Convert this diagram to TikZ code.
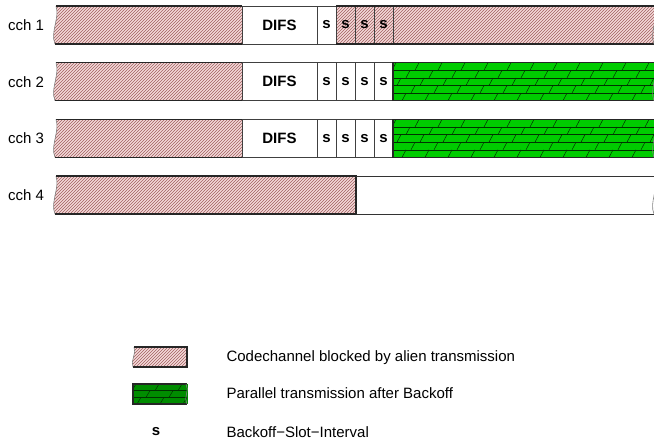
\documentclass[tikz,border=0pt]{standalone}
\usepackage{fontspec}
\setmainfont{Liberation Sans}
\usepackage{xcolor}
\usepackage{tikz}
\usetikzlibrary{patterns,positioning,calc}

\definecolor{blockpink}{RGB}{244,218,218}
\definecolor{hatchred}{RGB}{160,95,95}
\definecolor{parallelgreen}{RGB}{0,204,0}
\definecolor{legendgreen}{RGB}{0,140,0}
\definecolor{brickline}{RGB}{0,50,0}

\newcommand{\brickrows}[5]{% left, top, right, bottom, rows
  \begin{scope}
    \clip (#1,#2) rectangle (#3,#4);
    \pgfmathsetmacro{\rowh}{(#4-#2)/#5}
    \foreach \r in {1,...,#5}
      \draw[brick] (#1,#2+\r*\rowh) -- (#3,#2+\r*\rowh);
    \foreach \r in {1,...,#5}
      \foreach \k in {0,...,14}
        \draw[brick] (#1+8+23*\k-9*\r,#2+\r*\rowh) -- ++(4,-\rowh);
  \end{scope}}

\begin{document}
\begin{tikzpicture}[x=1pt, y=-1pt,
            every node/.style={font=\fontsize{15}{18}\selectfont},
            slotbox/.style={draw=black!75, line width=0.8pt, minimum width=19pt, minimum height=38pt,
                inner sep=0pt, outer sep=0pt, font=\fontsize{15}{18}\selectfont\bfseries},
            difsbox/.style={slotbox, minimum width=75pt},
            blocked/.style={preaction={fill=blockpink}, pattern=north east lines, pattern color=hatchred},
            barline/.style={draw=black!85, line width=1.4pt},
            wavy/.style={draw=black!50, line width=0.6pt},
            brick/.style={draw=brickline, line width=0.5pt}
        ]
            \useasboundingbox (0,0) rectangle (654,443);

            \foreach \i/\t in {1/6, 2/62.7, 3/119.4, 4/176.1}
                \node (cch\i) at (26,\t+19) {cch \i};

            \foreach \i/\t in {1/6, 2/62.7, 3/119.4} {
                \path[blocked] (56,\t) .. controls (60,\t+12) and (50,\t+26) .. (55,\t+38)
                    -- (242,\t+38) -- (242,\t) -- cycle;
                \draw[wavy] (56,\t) .. controls (60,\t+12) and (50,\t+26) .. (55,\t+38);
                \draw[barline] (56,\t) -- (242,\t) (55,\t+38) -- (242,\t+38);
                \node[difsbox, anchor=north west] (difs\i) at (242,\t) {DIFS};
                \node[slotbox, right=0pt of difs\i] (slot\i-1) {s};
            }

            \path[blocked] (slot1-1.north east) rectangle (660,44);
            \node[slotbox, blocked, right=0pt of slot1-1] (slot1-2) {s};
            \node[slotbox, blocked, right=0pt of slot1-2] (slot1-3) {s};
            \node[slotbox, blocked, right=0pt of slot1-3] (slot1-4) {s};
            \draw[barline] (slot1-1.north east) -- (660,6) (slot1-1.south east) -- (660,44);
            \draw[wavy] (655,6) .. controls (659,18) and (649,32) .. (654,44);

            \foreach \i/\t in {2/62.7, 3/119.4} {
                \node[slotbox, right=0pt of slot\i-1] (slot\i-2) {s};
                \node[slotbox, right=0pt of slot\i-2] (slot\i-3) {s};
                \node[slotbox, right=0pt of slot\i-3] (slot\i-4) {s};
                \fill[parallelgreen] (slot\i-4.north east) rectangle (660,\t+38);
                \brickrows{393}{\t}{660}{\t+38}{5}
                \draw[barline] (660,\t) -- (slot\i-4.north east) -- (slot\i-4.south east) -- (660,\t+38);
                \draw[wavy] (655,\t) .. controls (659,\t+12) and (649,\t+26) .. (654,\t+38);
            }

            \path[blocked] (56,176.1) .. controls (60,188.1) and (50,202.1) .. (55,214.1)
                -- (356,214.1) -- (356,176.1) -- cycle;
            \draw[wavy] (56,176.1) .. controls (60,188.1) and (50,202.1) .. (55,214.1);
            \draw[barline] (56,176.1) -- (356,176.1) -- (356,214.1) -- (55,214.1);
            \draw[draw=black!80, line width=0.9pt] (356,176.1) -- (660,176.1) (356,214.1) -- (660,214.1);
            \draw[wavy] (655,176.1) .. controls (659,188.1) and (649,202.1) .. (654,214.1);

            \path[blocked] (134,347) .. controls (137,353) and (130,361) .. (133,367)
                -- (187,367) -- (187,347) -- cycle;
            \draw[wavy] (134,347) .. controls (137,353) and (130,361) .. (133,367);
            \draw[barline] (134,347) -- (187,347) -- (187,367) -- (133,367);

            \fill[legendgreen] (133,384) rectangle (188,404);
            \brickrows{133}{384}{187}{404}{3}
            \draw[barline] (187,384) -- (133,384) -- (133,404) -- (187,404);
            \draw[wavy] (186,384) .. controls (190,390) and (183,398) .. (187,404);

            \node[font=\fontsize{15}{18}\selectfont\bfseries] (slotkey) at (156,432) {s};

            \node[anchor=west] (legblocked) at (223,358) {Codechannel blocked by alien transmission};
            \node[anchor=west] (legparallel) at (223,393) {Parallel transmission after Backoff};
            \node[anchor=west] (legslot) at (223,432) {Backoff−Slot−Interval};
        \end{tikzpicture}
\end{document}
